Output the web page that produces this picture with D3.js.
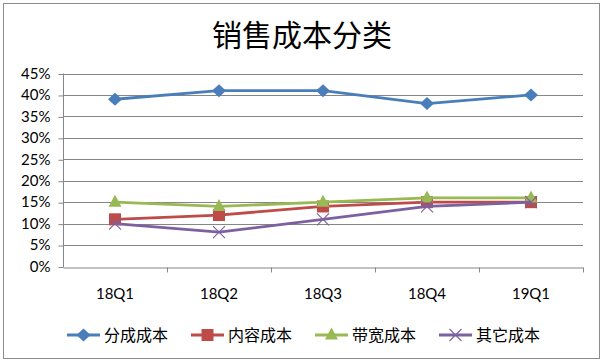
<!DOCTYPE html>
<html>
<head>
<meta charset="utf-8">
<script src="https://cdn.jsdelivr.net/npm/d3@7"></script>
<style>
  html, body { margin: 0; padding: 0; background: #fff; }
  svg { display: block; font-family: Lato, "Noto Sans CJK SC", sans-serif; }
</style>
</head>
<body>
<svg id="chart" width="604" height="363"></svg>
<script>
const categories = ['18Q1', '18Q2', '18Q3', '18Q4', '19Q1'];
const seriesNames = ['分成成本', '内容成本', '带宽成本', '其它成本'];
const fenCheng = [0.39, 0.41, 0.41, 0.38, 0.40];
const neiRong = [0.11, 0.12, 0.14, 0.15, 0.15];
const daiKuan = [0.15, 0.14, 0.15, 0.16, 0.16];
const qiTa = [0.10, 0.08, 0.11, 0.14, 0.15];
const yTicks = [0, 0.05, 0.10, 0.15, 0.20, 0.25, 0.30, 0.35, 0.40, 0.45];

const series = [
    { name: seriesNames[0], values: fenCheng, colour: '#4A7EBB', marker: 'diamond' },
    { name: seriesNames[1], values: neiRong, colour: '#BE4B48', marker: 'square' },
    { name: seriesNames[2], values: daiKuan, colour: '#98B954', marker: 'triangle' },
    { name: seriesNames[3], values: qiTa, colour: '#7D60A0', marker: 'cross' }
];

const svg = d3.select('#chart');

// chart frame
svg.append('rect')
    .attr('x', 3.5).attr('y', 3.5)
    .attr('width', 596).attr('height', 355)
    .attr('fill', '#fff')
    .attr('stroke', '#8c8c8c')
    .attr('stroke-width', 1);

// Title
svg.append('text')
    .text('销售成本分类')
    .attr('x', 302)
    .attr('y', 46)
    .attr('text-anchor', 'middle')
    .style('font-family', '"Noto Sans CJK SC", sans-serif')
    .style('font-size', '30px')
    .style('fill', '#000');

const plot = { left: 63, right: 583, top: 73.5, bottom: 266.5 };

// Scales
const scaleX = d3.scaleBand()
    .domain(categories)
    .range([plot.left, plot.right])
    .padding(0);
const cx = (d) => scaleX(d) + scaleX.bandwidth() / 2;

const scaleY = d3.scaleLinear()
    .domain([0, 0.45])
    .range([plot.bottom, plot.top]);

// Gridlines
svg.append('g')
    .selectAll('line')
    .data(yTicks.slice(1))
    .join('line')
    .attr('x1', plot.left)
    .attr('x2', plot.right)
    .attr('y1', d => Math.round(scaleY(d)) + 0.5)
    .attr('y2', d => Math.round(scaleY(d)) + 0.5)
    .attr('stroke', '#868686')
    .attr('stroke-width', 1);

// Y axis
const yAxis = d3.axisLeft(scaleY)
    .tickValues(yTicks)
    .tickFormat(d3.format('.0%'))
    .tickSize(5)
    .tickPadding(8);
const yG = svg.append('g')
    .attr('transform', `translate(${plot.left + 0.5},0)`)
    .call(yAxis);
yG.selectAll('.tick line').attr('stroke', '#868686')
    .attr('transform', 'translate(0,0.5)');
yG.select('.domain').attr('stroke', '#868686').attr('d', `M0,${plot.top}V${plot.bottom + 0.5}`);
yG.selectAll('text')
    .style('font-size', '15px')
    .style('font-family', 'Lato, sans-serif')
    .style('fill', '#000')
    .attr('x', -13);

// X axis
const xAxis = d3.axisBottom(scaleX)
    .tickValues([])
    .tickSizeOuter(0);
const xG = svg.append('g')
    .attr('transform', `translate(0,${Math.round(plot.bottom) + 0.5})`)
    .call(xAxis);
xG.select('.domain').attr('stroke', '#868686');
xG.selectAll('line.boundary')
    .data(categories)
    .join('line')
    .attr('class', 'boundary')
    .attr('x1', d => scaleX(d) + scaleX.bandwidth() + 0.5)
    .attr('x2', d => scaleX(d) + scaleX.bandwidth() + 0.5)
    .attr('y1', 0)
    .attr('y2', 5)
    .attr('stroke', '#868686');
xG.selectAll('text.cat')
    .data(categories)
    .join('text')
    .attr('class', 'cat')
    .text(d => d)
    .attr('x', d => cx(d))
    .attr('y', 31)
    .attr('text-anchor', 'middle')
    .style('font-size', '15px')
    .style('font-family', 'Lato, sans-serif')
    .style('fill', '#000');

// Markers
const drawMarker = (g, type, colour, x, y) => {
    if (type === 'diamond') {
        g.append('path')
            .attr('d', `M${x},${y - 6.5}L${x + 7},${y}L${x},${y + 6.5}L${x - 7},${y}Z`)
            .attr('fill', colour);
    } else if (type === 'square') {
        g.append('rect')
            .attr('x', x - 6).attr('y', y - 6)
            .attr('width', 12).attr('height', 12)
            .attr('fill', colour);
    } else if (type === 'triangle') {
        g.append('path')
            .attr('d', `M${x},${y - 7.5}L${x + 6.5},${y + 4.5}L${x - 6.5},${y + 4.5}Z`)
            .attr('fill', colour);
    } else {
        g.append('path')
            .attr('d', `M${x - 6},${y - 6}L${x + 6},${y + 6}M${x + 6},${y - 6}L${x - 6},${y + 6}`)
            .attr('stroke', colour)
            .attr('stroke-width', 1.1)
            .attr('fill', 'none');
    }
};

const line = d3.line()
    .x((_d, i) => cx(categories[i]))
    .y(d => scaleY(d));

series.forEach((s) => {
    const g = svg.append('g').attr('class', 'series');
    g.append('path')
        .datum(s.values)
        .attr('d', line)
        .attr('fill', 'none')
        .attr('stroke', s.colour)
        .attr('stroke-width', 2.8)
        .attr('stroke-linejoin', 'round');
    s.values.forEach((v, i) => drawMarker(g, s.marker, s.colour, cx(categories[i]), scaleY(v)));
});

// Legend
const legendX = [67, 191, 315, 439];
const legendY = 335;
series.forEach((s, i) => {
    const g = svg.append('g').attr('class', 'legend-item');
    const x0 = legendX[i];
    g.append('line')
        .attr('x1', x0).attr('x2', x0 + 33)
        .attr('y1', legendY).attr('y2', legendY)
        .attr('stroke', s.colour)
        .attr('stroke-width', 2.8);
    drawMarker(g, s.marker, s.colour, x0 + 16.5, legendY);
    g.append('text')
        .text(s.name)
        .attr('x', x0 + 37)
        .attr('y', legendY + 5.5)
        .style('font-family', '"Noto Sans CJK SC", sans-serif')
        .style('font-size', '16px')
        .style('fill', '#000');
});
</script>
</body>
</html>
